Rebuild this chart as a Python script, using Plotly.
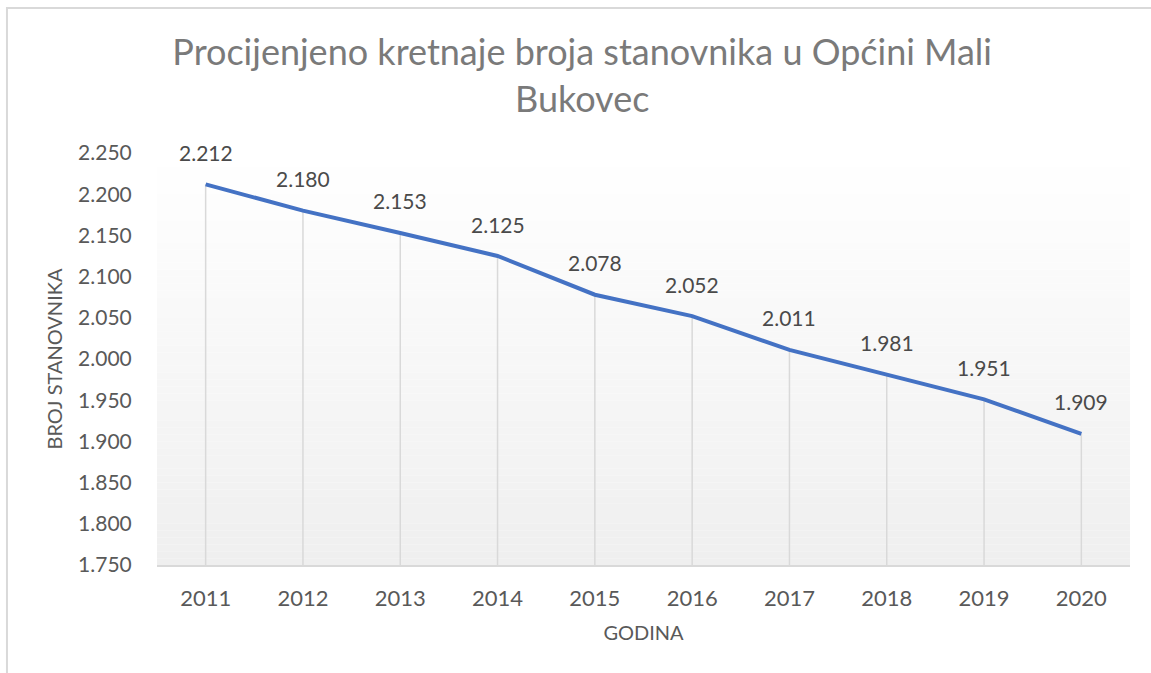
import plotly.graph_objects as go

years = ["2011", "2012", "2013", "2014", "2015", "2016", "2017", "2018", "2019", "2020"]
population = [2212, 2180, 2153, 2125, 2078, 2052, 2011, 1981, 1951, 1909]
y_ticks = [1750, 1800, 1850, 1900, 1950, 2000, 2050, 2100, 2150, 2200, 2250]
y_tick_labels = ["1.750", "1.800", "1.850", "1.900", "1.950", "2.000", "2.050", "2.100", "2.150", "2.200", "2.250"]
label_texts = ["2.212", "2.180", "2.153", "2.125", "2.078", "2.052", "2.011", "1.981", "1.951", "1.909"]

title_text = "Procijenjeno kretnaje broja stanovnika u Općini Mali<br>Bukovec"
FONT = "Lato"
Y_MIN = y_ticks[0]

fig = go.Figure()

# drop lines
dx, dy = [], []
for yr, v in zip(years, population):
    dx += [yr, yr, None]
    dy += [Y_MIN, v, None]
fig.add_trace(go.Scatter(x=dx, y=dy, mode="lines",
                         line=dict(color="#d9d9d9", width=1.5),
                         hoverinfo="skip", showlegend=False))

fig.add_trace(go.Scatter(x=years, y=population, mode="lines",
                         line=dict(color="#4472c4", width=4),
                         showlegend=False))

for i, (v, t) in enumerate(zip(population, label_texts)):
    fig.add_annotation(x=i, y=v, xref="x", yref="y", text=t, showarrow=False,
                       yshift=32, font=dict(family=FONT, size=21, color="#4a4a4a"))

# gradient plot background
shapes = []
n = 60
for i in range(n):
    f = i / (n - 1)
    c = int(round(255 - (255 - 239) * f))
    shapes.append(dict(type="rect", xref="x domain", yref="y domain",
                       x0=0, x1=1, y0=1 - (i + 1) / n, y1=1 - i / n,
                       fillcolor=f"rgb({c},{c},{c})", line=dict(width=0),
                       layer="below"))
# chart border (partly outside the view)
shapes.append(dict(type="rect", xref="paper", yref="paper",
                   x0=-0.1542, x1=1.035, y0=-0.285, y1=1.352,
                   line=dict(color="#d9d9d9", width=2), fillcolor="rgba(0,0,0,0)",
                   layer="below"))

fig.update_layout(
    width=1151, height=673,
    margin=dict(l=157, r=21, t=153, b=108),
    paper_bgcolor="white", plot_bgcolor="white",
    shapes=shapes,
    title=dict(text=title_text, x=0.437, xref="paper", xanchor="center",
               yref="container", y=1 - 65 / 673, yanchor="top",
               font=dict(family=FONT, size=36, color="#7a7a7a")),
    xaxis=dict(type="category", range=[-0.5, 9.5], showgrid=False,
               showline=True, linecolor="#d9d9d9", linewidth=1.5,
               ticks="outside", ticklen=13, tickcolor="rgba(0,0,0,0)",
               tickfont=dict(family=FONT, size=22, color="#595959"),
               title=dict(text="GODINA", standoff=16,
                          font=dict(family=FONT, size=20, color="#595959"))),
    yaxis=dict(range=[y_ticks[0], y_ticks[-1]], tickvals=y_ticks, ticktext=y_tick_labels,
               showgrid=False, zeroline=False, showline=False,
               ticks="outside", ticklen=20, tickcolor="rgba(0,0,0,0)",
               tickfont=dict(family=FONT, size=21, color="#595959"),
               title=dict(text="BROJ STANOVNIKA", standoff=10,
                          font=dict(family=FONT, size=20, color="#595959"))),
)

fig.write_html("out.html", config={"displayModeBar": False},
               post_script="document.body.style.margin='0';document.body.style.overflow='hidden';")
